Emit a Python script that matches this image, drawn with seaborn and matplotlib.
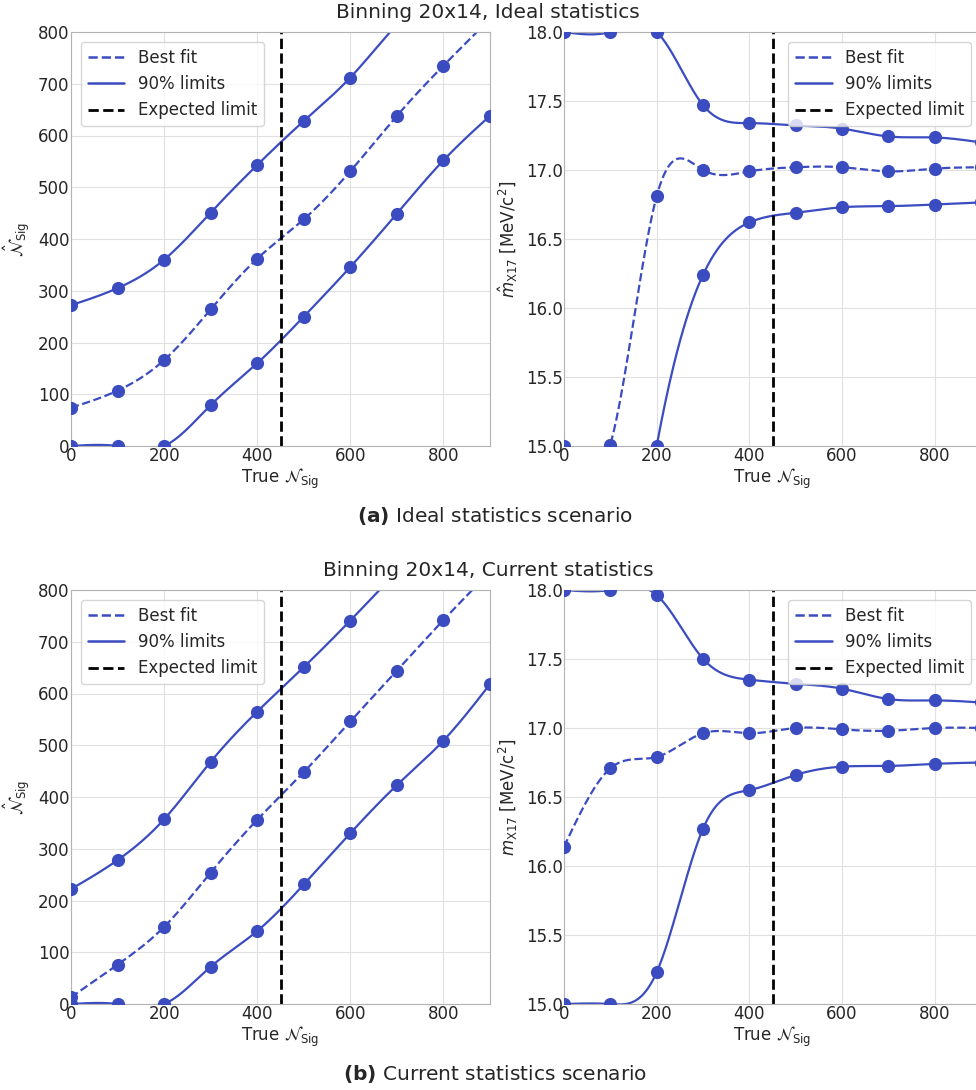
import numpy as np
import pandas as pd
import matplotlib
matplotlib.use("Agg")
import matplotlib.pyplot as plt
from matplotlib.lines import Line2D
import seaborn as sns

# ---------------- data ----------------
true_n = [0, 100, 200, 300, 400, 500, 600, 700, 800, 900]

# Ideal statistics, N_sig
ideal_n_best = [74, 107, 166, 264, 362, 438, 531, 638, 735, 825]
ideal_n_up = [272, 305, 360, 451, 543, 628, 712, 815, 905, 995]
ideal_n_low = [0, 0, 0, 79, 160, 250, 346, 449, 552, 638]

# Ideal statistics, m_X17 (lower limits at 0 and 100 lie below the shown range)
ideal_m_best = [15.0, 15.01, 16.81, 17.0, 16.99, 17.02, 17.02, 16.99, 17.01, 17.02]
ideal_m_up = [18.0, 18.0, 18.0, 17.47, 17.34, 17.323, 17.30, 17.243, 17.236, 17.20]
ideal_m_low = [14.2, 13.4, 15.0, 16.24, 16.62, 16.69, 16.73, 16.738, 16.75, 16.765]

# Current statistics, N_sig
cur_n_best = [13, 76, 149, 254, 356, 448, 546, 644, 742, 835]
cur_n_up = [222, 278, 357, 468, 565, 651, 741, 835, 925, 1015]
cur_n_low = [0, 0, 0, 72, 141, 231, 330, 423, 509, 618]

# Current statistics, m_X17
cur_m_best = [16.14, 16.708, 16.79, 16.962, 16.962, 17.0, 16.99, 16.98, 17.0, 17.0]
cur_m_up = [18.0, 18.0, 17.963, 17.502, 17.35, 17.32, 17.285, 17.21, 17.20, 17.185]
cur_m_low = [15.0, 15.0, 15.23, 16.27, 16.55, 16.66, 16.72, 16.725, 16.74, 16.75]

expected_limit = 450

row_titles = ["Binning 20x14, Ideal statistics", "Binning 20x14, Current statistics"]
captions = [r"$\mathbf{(a)}$ Ideal statistics scenario",
            r"$\mathbf{(b)}$ Current statistics scenario"]
xlabel = r"True $\mathcal{N}_{\mathrm{Sig}}$"
ylabel_n = r"$\hat{\mathcal{N}}_{\mathrm{Sig}}$"
ylabels_m = [r"$\hat{m}_{\mathrm{X17}}$ [MeV/c$^2$]", r"$m_{\mathrm{X17}}$ [MeV/c$^2$]"]
legend_labels = ["Best fit", "90% limits", "Expected limit"]

BLUE = "#3b4cc0"


def natural_spline(x, y, n=400):
    x = np.asarray(x, float)
    y = np.asarray(y, float)
    k = len(x)
    h = np.diff(x)
    A = np.zeros((k, k))
    b = np.zeros(k)
    A[0, 0] = 1
    A[-1, -1] = 1
    for i in range(1, k - 1):
        A[i, i - 1] = h[i - 1]
        A[i, i] = 2 * (h[i - 1] + h[i])
        A[i, i + 1] = h[i]
        b[i] = 3 * ((y[i + 1] - y[i]) / h[i] - (y[i] - y[i - 1]) / h[i - 1])
    c = np.linalg.solve(A, b)
    xs = np.linspace(x[0], x[-1], n)
    idx = np.clip(np.searchsorted(x, xs, side="right") - 1, 0, k - 2)
    dx = xs - x[idx]
    bb = (y[idx + 1] - y[idx]) / h[idx] - h[idx] * (2 * c[idx] + c[idx + 1]) / 3
    dd = (c[idx + 1] - c[idx]) / (3 * h[idx])
    ys = y[idx] + bb * dx + c[idx] * dx ** 2 + dd * dx ** 3
    return xs, ys


sns.set_style("whitegrid", {"axes.edgecolor": "0.7", "grid.color": "0.88"})
plt.rcParams["font.family"] = ["DejaVu Sans"]
plt.rcParams["mathtext.fontset"] = "dejavusans"

W, H = 976, 1090
fig = plt.figure(figsize=(W / 100, H / 100), dpi=100)


def draw(ax, best, up, low, ylim, yticks, ylabel, legend_loc):
    for series, ls in ((best, "--"), (up, "-"), (low, "-")):
        xs, ys = natural_spline(true_n, series)
        sns.lineplot(x=xs, y=ys, ax=ax, color=BLUE, lw=1.6, linestyle=ls,
                     sort=False, estimator=None)
        sns.scatterplot(x=true_n, y=series, ax=ax, color=BLUE, s=90,
                        edgecolor=BLUE, linewidth=0, zorder=3)
    ax.axvline(expected_limit, color="black", ls="--", lw=2)
    ax.set_xlim(0, 900)
    ax.set_ylim(*ylim)
    ax.set_xticks([0, 200, 400, 600, 800])
    ax.set_yticks(yticks)
    ax.tick_params(labelsize=12, pad=1, length=0)
    ax.set_xlabel(xlabel, fontsize=12, labelpad=1)
    ax.set_ylabel(ylabel, fontsize=12, labelpad=4)
    handles = [Line2D([], [], color=BLUE, ls="--", lw=1.8),
               Line2D([], [], color=BLUE, ls="-", lw=1.8),
               Line2D([], [], color="black", ls="--", lw=2)]
    ax.legend(handles, legend_labels, loc=legend_loc, fontsize=12,
              frameon=True, handlelength=2.2, borderaxespad=0.6)


rows = [
    (ideal_n_best, ideal_n_up, ideal_n_low, ideal_m_best, ideal_m_up, ideal_m_low),
    (cur_n_best, cur_n_up, cur_n_low, cur_m_best, cur_m_up, cur_m_low),
]
tops = [32, 590]
for r, (nb, nu, nl, mb, mu, ml) in enumerate(rows):
    top = tops[r]
    h = 414
    bottom = 1 - (top + h) / H
    axL = fig.add_axes([71 / W, bottom, 419 / W, h / H])
    axR = fig.add_axes([564 / W, bottom, 417 / W, h / H])
    draw(axL, nb, nu, nl, (0, 800), np.arange(0, 801, 100), ylabel_n, "upper left")
    draw(axR, mb, mu, ml, (15, 18), np.arange(15, 18.01, 0.5), ylabels_m[r], "upper right")
    axR.yaxis.set_major_formatter(matplotlib.ticker.FormatStrFormatter("%.1f"))
    fig.text(488 / W, 1 - (top - 20) / H, row_titles[r], ha="center", va="center", fontsize=14.5)
    fig.text(495 / W, 1 - (top + h + 70) / H, captions[r], ha="center", va="center", fontsize=14.5)

fig.savefig("out.png", dpi=100)
